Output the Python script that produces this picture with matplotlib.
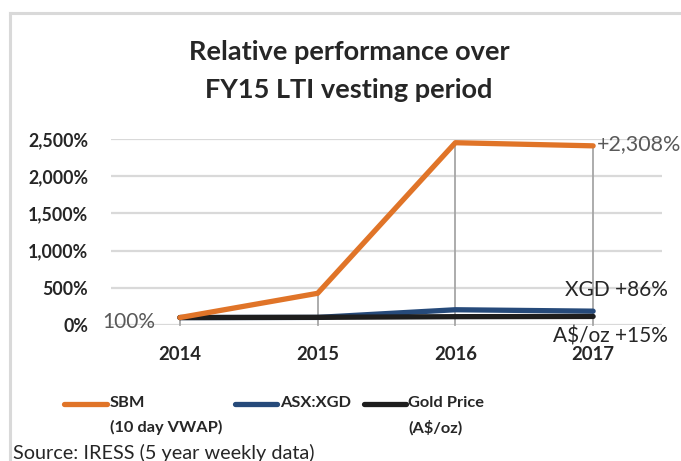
import matplotlib
matplotlib.use("Agg")
import matplotlib.pyplot as plt
from matplotlib.lines import Line2D

years = ["2014", "2015", "2016", "2017"]
sbm = [100, 426, 2450, 2408]
xgd = [100, 102, 205, 186]
gold = [100, 103, 112, 115]
yticks = [0, 500, 1000, 1500, 2000, 2500]
ytick_labels = ["0%", "500%", "1,000%", "1,500%", "2,000%", "2,500%"]
series_names = ["SBM\n(10 day VWAP)", "ASX:XGD", "Gold Price\n(A$/oz)"]
colors = ["#E07428", "#264A7A", "#1E1E1E"]
title_lines = ["Relative performance over", "FY15 LTI vesting period"]

plt.rcParams['font.family'] = ['Lato', 'DejaVu Sans']

W, H = 681, 461
fig = plt.figure(figsize=(W / 100, H / 100), dpi=100)

# frame lines (top and left)
fig.add_artist(Line2D([10 / W, 10 / W], [0, 1 - 13 / H], color="#d9d9d9", lw=2.2))
fig.add_artist(Line2D([10 / W, 1], [1 - 13 / H, 1 - 13 / H], color="#d9d9d9", lw=2.2))

ax = fig.add_axes([111 / W, 136 / H, (662 - 111) / W, (325 - 139) / H])
x = list(range(len(years)))

ax.set_xlim(-0.5, 3.5)
ax.set_ylim(0, 2500)
for sp in ax.spines.values():
    sp.set_visible(False)
ax.set_yticks(yticks)
ax.set_yticklabels(ytick_labels, fontsize=12.8, fontweight="bold", color="#262626")
ax.set_xticks(x)
ax.set_xticklabels(years, fontsize=13.3, fontweight="bold", color="#262626")
ax.tick_params(length=0)
ax.tick_params(axis="y", pad=16.5)
ax.tick_params(axis="x", pad=15)
ax.grid(axis="y", color="#d9d9d9", lw=1.6)
ax.set_axisbelow(True)

# drop lines
for i in x:
    top = max(sbm[i], xgd[i], gold[i])
    ax.plot([i, i], [0, top], color="#a6a6a6", lw=1.3, zorder=2, clip_on=False)

ax.plot(x, xgd, color=colors[1], lw=3.8, solid_capstyle="round", zorder=3, clip_on=False)
ax.plot(x, gold, color=colors[2], lw=3.8, solid_capstyle="round", zorder=4, clip_on=False)
ax.plot(x, sbm, color=colors[0], lw=3.8, solid_capstyle="round", zorder=5, clip_on=False)

lab_col = "#595959"
ax.text(-0.18, 40, "100%", ha="right", va="center", fontsize=15, color=lab_col)
ax.text(3.03, sbm[3] + 20, "+2,308%", ha="left", va="center", fontsize=15.5, color=lab_col)
ax.text(3.54, 470, "XGD +86%", ha="right", va="center", fontsize=15, color="#262626")
ax.text(3.54, -150, "A$/oz +15%", ha="right", va="center", fontsize=15, color="#262626")

for yy, t in zip([52, 90], title_lines):
    fig.text(349 / W, 1 - yy / H, t, ha="center", va="center", fontsize=19.5,
             fontweight="bold", color="#262626")

# legend (manual)
leg = [(64, 107, 110), (235, 277, 280), (364, 406, 408)]
for (x0, x1, tx), name, c in zip(leg, series_names, colors):
    yy = 1 - 404 / H
    fig.add_artist(Line2D([x0 / W, x1 / W], [yy, yy], color=c, lw=3.8, solid_capstyle="round"))
    fig.text(tx / W, 1 - 396 / H, name, ha="left", va="top", fontsize=11.8,
             fontweight="bold", color="#262626", linespacing=1.8)

fig.text(13 / W, 1 - 453 / H, "Source: IRESS (5 year weekly data)", ha="left", va="center",
         fontsize=14.3, color="#262626")

fig.savefig("out.png", dpi=100)
